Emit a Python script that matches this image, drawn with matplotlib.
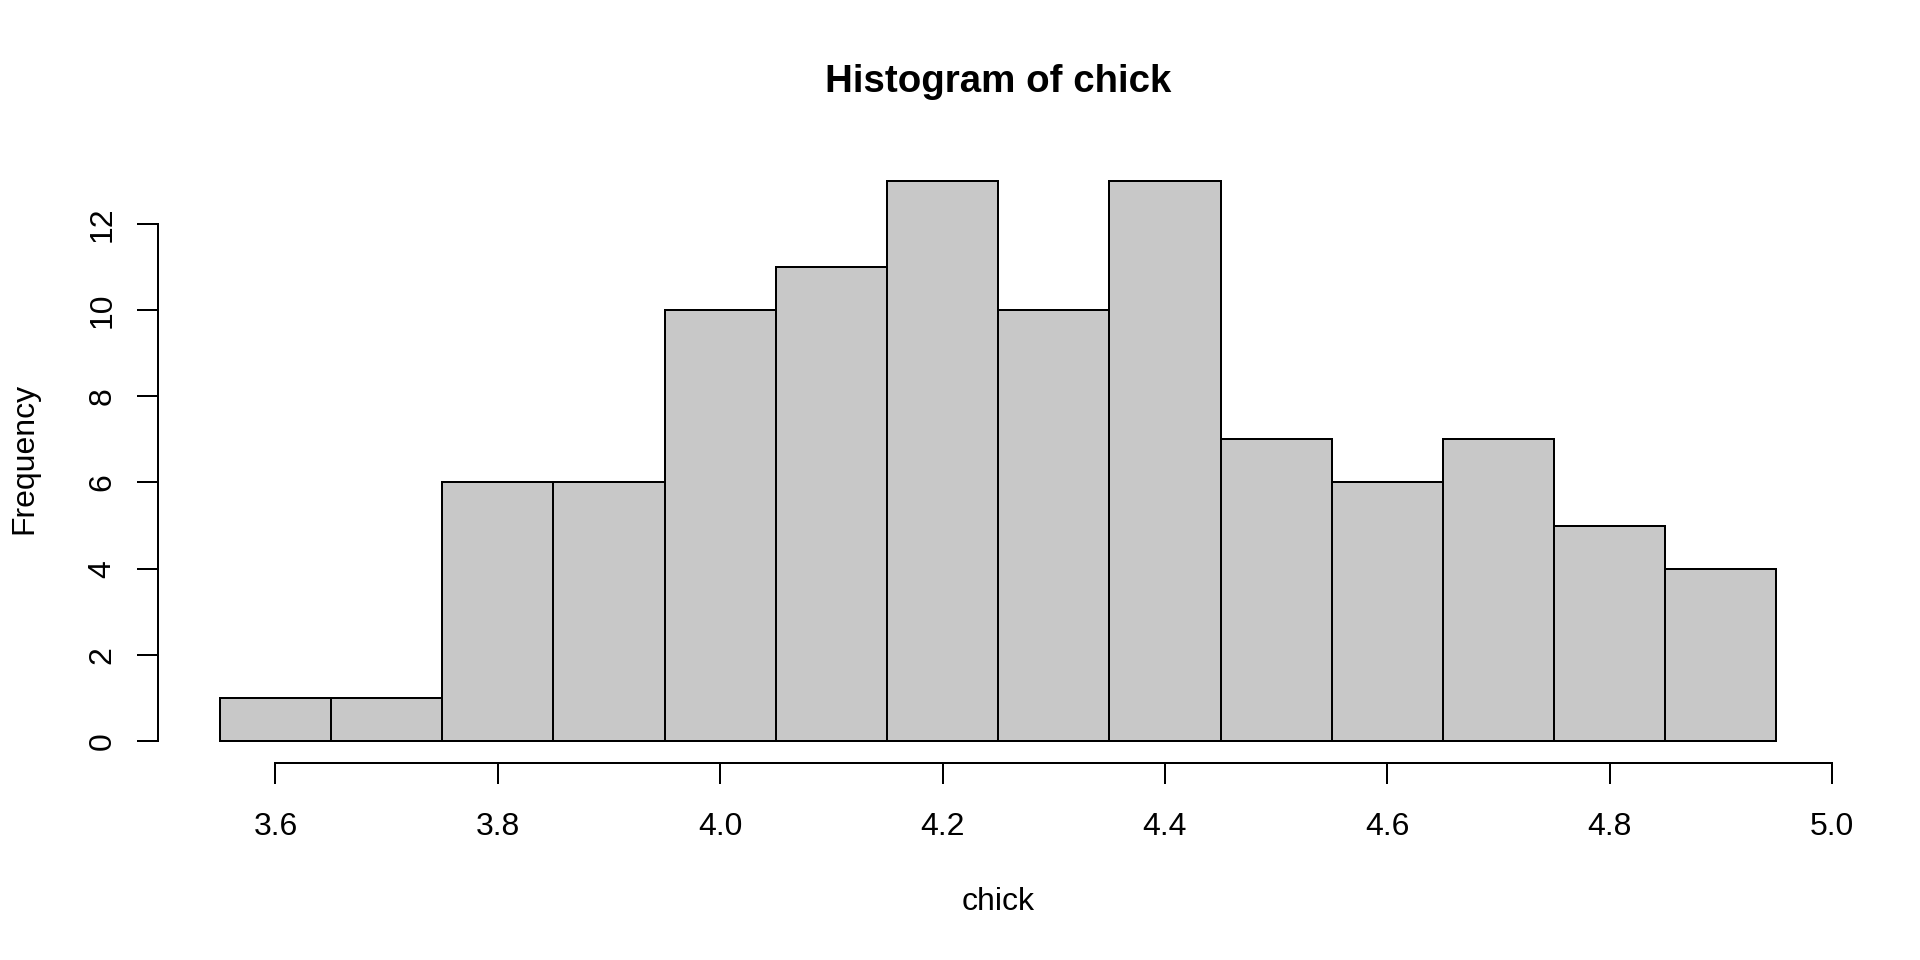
import numpy as np
import matplotlib
matplotlib.use("Agg")
import matplotlib.pyplot as plt

# Data
breaks = [3.55, 3.65, 3.75, 3.85, 3.95, 4.05, 4.15, 4.25, 4.35, 4.45, 4.55, 4.65, 4.75, 4.85, 4.95]
counts = [1, 1, 6, 6, 10, 11, 13, 10, 13, 7, 6, 7, 5, 4]
xticks = [3.6, 3.8, 4.0, 4.2, 4.4, 4.6, 4.8, 5.0]
xticklabels = ["3.6", "3.8", "4.0", "4.2", "4.4", "4.6", "4.8", "5.0"]
yticks = [0, 2, 4, 6, 8, 10, 12]
yticklabels = ["0", "2", "4", "6", "8", "10", "12"]
title = "Histogram of chick"
xlabel = "chick"
ylabel = "Frequency"

plt.rcParams['font.family'] = ['Liberation Sans', 'DejaVu Sans']

DPI = 100
fig = plt.figure(figsize=(19.2, 9.6), dpi=DPI)
L, R, B, T = 157.6 / 1920, 1838.7 / 1920, (960 - 763.4) / 960, (960 - 158.5) / 960
ax = fig.add_axes([L, B, R - L, T - B])

lw = 1.44
edges = np.array(breaks)
ax.bar(edges[:-1], counts, width=np.diff(edges), align='edge',
       color='#C8C8C8', edgecolor='black', linewidth=lw)

xr = breaks[-1] - breaks[0]
ax.set_xlim(breaks[0] - 0.04 * xr, breaks[-1] + 0.04 * xr)
ym = max(counts)
ax.set_ylim(-0.04 * ym, ym * 1.04)

for s in ['top', 'right']:
    ax.spines[s].set_visible(False)
ax.spines['left'].set_bounds(yticks[0], yticks[-1])
ax.spines['bottom'].set_bounds(xticks[0], xticks[-1])
for s in ['left', 'bottom']:
    ax.spines[s].set_linewidth(lw)

fs = 23
ax.set_xticks(xticks)
ax.set_xticklabels(xticklabels, fontsize=fs)
ax.set_yticks(yticks)
ax.set_yticklabels(yticklabels, fontsize=fs, rotation=90, va='center')
ax.tick_params(axis='both', direction='out', length=15, width=lw, color='black')
ax.tick_params(axis='x', pad=20)
ax.tick_params(axis='y', pad=14)

fig.text((L + R) / 2, 1 - 82.5 / 960, title, ha='center', va='center',
         fontsize=27.7, fontweight='bold')
fig.text((L + R) / 2, 1 - 902.5 / 960, xlabel, ha='center', va='center', fontsize=fs)
fig.text(24.5 / 1920, 1 - 458 / 960, ylabel, ha='center', va='center', fontsize=fs,
         rotation=90)

fig.savefig("out.png", dpi=DPI, facecolor='white')
